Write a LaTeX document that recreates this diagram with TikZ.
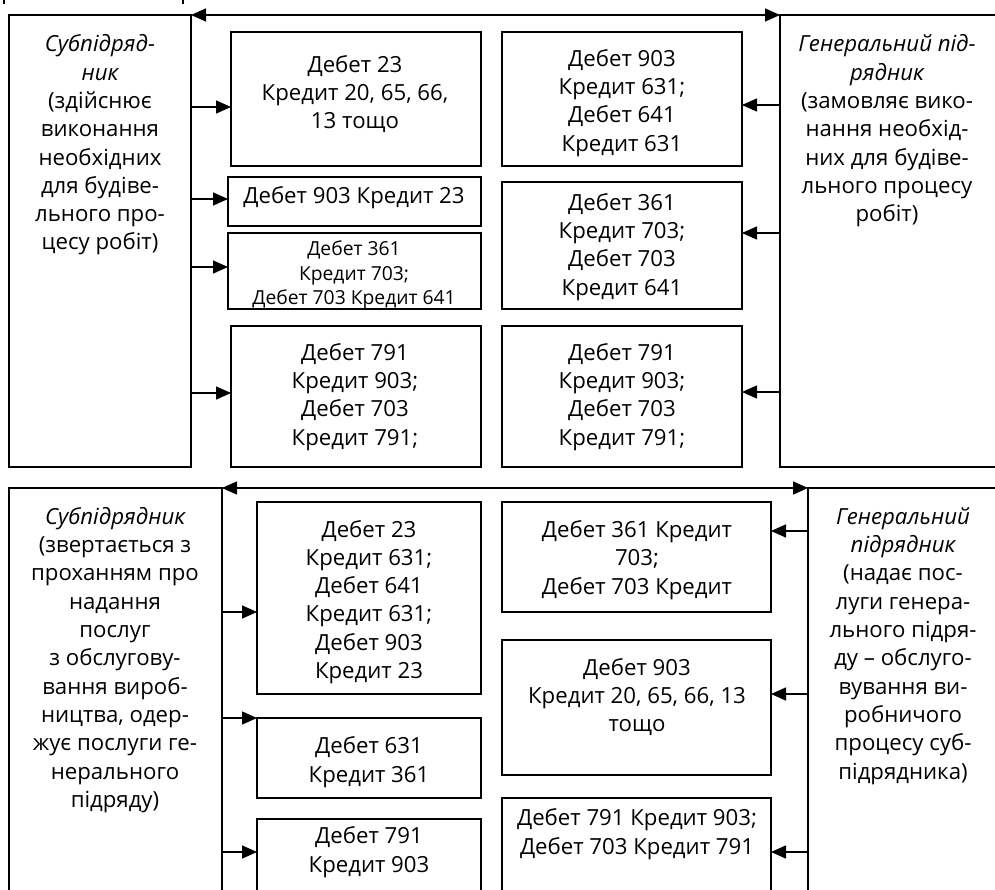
\documentclass[tikz,border=0pt]{standalone}
\usepackage{fontspec}
\setmainfont{Open Sans}
\usetikzlibrary{arrows.meta,fit}
\begin{document}
\begin{tikzpicture}[x=1pt,y=-1pt,
  box/.style={draw, line width=1.6pt, inner sep=0pt, outer sep=0pt},
  txt/.style={align=center, inner sep=0pt, font=\fontsize{22.2}{28.3}\selectfont},
  stxt/.style={align=center, inner sep=0pt, font=\fontsize{19.3}{24.5}\selectfont},
  arr/.style={line width=1.5pt, -{Triangle[length=15pt,width=13pt]}},
  biarr/.style={line width=1.5pt, {Triangle[length=15pt,width=13pt]}-{Triangle[length=15pt,width=13pt]}}]
\useasboundingbox (0,0) rectangle (995,889);
\clip (0,0) rectangle (995,889);
\fill[white] (0,0) rectangle (995,889);
% remnants at top edge
\draw[line width=1.2pt] (4,0) -- (4,4);
\draw[line width=1.2pt] (183,0) -- (183,4);
% ===== top section =====
\node[box, fit={(9,15) (191,467)}] (L) {};
\node[box, fit={(780,15) (1020,467)}] (R) {};
\node[box, fit={(231,32) (481,166)}] (A1) {};
\node[box, fit={(228,177) (481,226)}] (A2) {};
\node[box, fit={(228,233) (481,309)}] (A3) {};
\node[box, fit={(231,326) (481,467)}] (A4) {};
\node[box, fit={(502,32) (742,166)}] (B1) {};
\node[box, fit={(502,182) (742,309)}] (B2) {};
\node[box, fit={(502,326) (742,467)}] (B3) {};
\node[txt] (tL) at (100,145) {{\itshape Субпідряд-}\\{\itshape ник}\\(здійснює\\виконання\\необхідних\\для будіве-\\льного про-\\цесу робіт)};
\node[txt] (tR) at (887,131) {{\itshape Генеральний під-}\\{\itshape рядник}\\(замовляє вико-\\нання необхід-\\них для будіве-\\льного процесу\\робіт)};
\node[txt] (tA1) at (355,94) {Дебет 23\\Кредит 20, 65, 66,\\13 тощо};
\node[txt] (tA2) at (354,198) {Дебет 903 Кредит 23};
\node[stxt] (tA3) at (354,275) {Дебет 361\\Кредит 703;\\Дебет 703 Кредит 641};
\node[txt] (tA4) at (355,397) {Дебет 791\\Кредит 903;\\Дебет 703\\Кредит 791;};
\node[txt] (tB1) at (622,103) {Дебет 903\\Кредит 631;\\Дебет 641\\Кредит 631};
\node[txt] (tB2) at (622,247) {Дебет 361\\Кредит 703;\\Дебет 703\\Кредит 641};
\node[txt] (tB3) at (622,397) {Дебет 791\\Кредит 903;\\Дебет 703\\Кредит 791;};
\draw[biarr] (L.north east) -- (R.north west);
\draw[arr] (L.east |- 0,107) -- (A1.west |- 0,107);
\draw[arr] (L.east |- 0,199) -- (A2.west |- 0,199);
\draw[arr] (L.east |- 0,267) -- (A3.west |- 0,267);
\draw[arr] (L.east |- 0,393) -- (A4.west |- 0,393);
\draw[arr] (R.west |- 0,105) -- (B1.east |- 0,105);
\draw[arr] (R.west |- 0,233) -- (B2.east |- 0,233);
\draw[arr] (R.west |- 0,392) -- (B3.east |- 0,392);
% ===== bottom section =====
\node[box, fit={(9,488) (222,920)}] (L2) {};
\node[box, fit={(808,488) (1020,920)}] (R2) {};
\node[box, fit={(257,502) (481,694)}] (C1) {};
\node[box, fit={(257,718) (481,798)}] (C2) {};
\node[box, fit={(257,819) (481,920)}] (C3) {};
\node[box, fit={(502,502) (771,612)}] (D1) {};
\node[box, fit={(502,640) (771,775)}] (D2) {};
\node[box, fit={(502,798) (771,920)}] (D3) {};
\node[txt] (tL2) at (115,660) {{\itshape Субпідрядник}\\(звертається з\\проханням про\\надання\\послуг\\з обслугову-\\вання вироб-\\ництва, одер-\\жує послуги ге-\\нерального\\підряду)};
\node[txt] (tR2) at (903,646) {{\itshape Генеральний}\\{\itshape підрядник}\\(надає пос-\\луги генера-\\льного підря-\\ду – обслуго-\\вування ви-\\робничого\\процесу суб-\\підрядника)};
\node[txt] (tC1) at (369,602) {Дебет 23\\Кредит 631;\\Дебет 641\\Кредит 631;\\Дебет 903\\Кредит 23};
\node[txt] (tC2) at (369,762) {Дебет 631\\Кредит 361};
\node[txt] (tC3) at (369,852) {Дебет 791\\Кредит 903};
\node[txt] (tD1) at (637,560) {Дебет 361 Кредит\\703;\\Дебет 703 Кредит};
\node[txt] (tD2) at (637,697) {Дебет 903\\Кредит 20, 65, 66, 13\\тощо};
\node[txt] (tD3) at (637,834) {Дебет 791 Кредит 903;\\Дебет 703 Кредит 791};
\draw[biarr] (L2.north east) -- (R2.north west);
\draw[arr] (L2.east |- 0,612) -- (C1.west |- 0,612);
\draw[arr] (L2.east |- 0,718) -- (C2.west |- 0,718);
\draw[arr] (L2.east |- 0,852) -- (C3.west |- 0,852);
\draw[arr] (R2.west |- 0,531) -- (D1.east |- 0,531);
\draw[arr] (R2.west |- 0,694) -- (D2.east |- 0,694);
\draw[arr] (R2.west |- 0,852) -- (D3.east |- 0,852);
\end{tikzpicture}
\end{document}
